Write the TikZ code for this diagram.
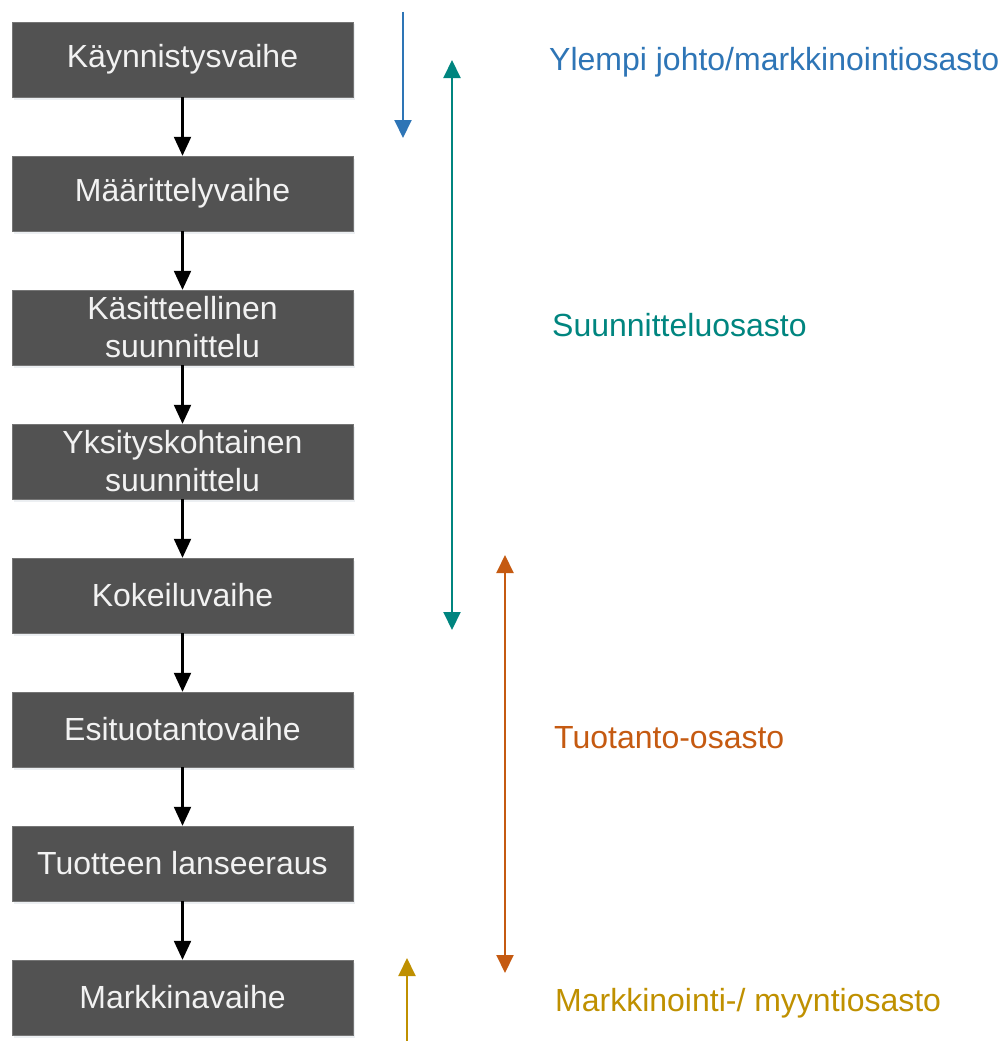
\documentclass[tikz,border=0pt]{standalone}
\usepackage{fontspec}
\setmainfont{Liberation Sans}
\usetikzlibrary{arrows.meta,shadows}
\definecolor{boxgray}{HTML}{525252}
\definecolor{cblue}{HTML}{2E75B6}
\definecolor{cteal}{HTML}{00857F}
\definecolor{corange}{HTML}{C55A11}
\definecolor{cgold}{HTML}{BF9000}
\tikzset{
  phase/.style={draw=boxgray!80!white, fill=boxgray, minimum width=341pt, minimum height=75pt,
    inner sep=0pt, text=white!95!black, align=center, font=\fontsize{32}{38}\selectfont,
    drop shadow={opacity=0.12, fill=cblue!40!gray, shadow xshift=1.5pt, shadow yshift=-2.5pt}},
  flow/.style={draw=black, line width=2.2pt, -{Triangle[width=17pt,length=19pt]}},
  dept/.style={line width=2pt, -{Triangle[width=17pt,length=18pt]}},
  ddept/.style={line width=2pt, {Triangle[width=17pt,length=18pt]}-{Triangle[width=17pt,length=18pt]}},
  lbl/.style={anchor=west, inner sep=0pt, font=\fontsize{32}{36}\selectfont}
}
\begin{document}
\begin{tikzpicture}[x=1pt,y=-1pt]
\path[use as bounding box] (0,0) rectangle (1006,1041);
\node[phase] (b1) at (182.5,59.5) {Käynnistysvaihe};
\node[phase] (b2) at (182.5,193.5) {Määrittelyvaihe};
\node[phase] (b3) at (182.5,327.5) {Käsitteellinen\\suunnittelu};
\node[phase] (b4) at (182.5,461.5) {Yksityskohtainen\\suunnittelu};
\node[phase] (b5) at (182.5,595.5) {Kokeiluvaihe};
\node[phase] (b6) at (182.5,729.5) {Esituotantovaihe};
\node[phase] (b7) at (182.5,863.5) {Tuotteen lanseeraus};
\node[phase] (b8) at (182.5,997.5) {Markkinavaihe};
\foreach \a/\b in {b1/b2,b2/b3,b3/b4,b4/b5,b5/b6,b6/b7,b7/b8}
  \draw[flow] (\a.south) -- (\b.north);
% department arrows
\coordinate (blA) at (403,12);
\coordinate (blB) at (403,138);
\draw[dept, draw=cblue, fill=cblue] (blA) -- (blB);
\coordinate (teA) at (452,60);
\coordinate (teB) at (452,630);
\draw[ddept, draw=cteal, fill=cteal] (teA) -- (teB);
\coordinate (orA) at (505,555);
\coordinate (orB) at (505,973);
\draw[ddept, draw=corange, fill=corange] (orA) -- (orB);
\coordinate (goA) at (407,1041);
\coordinate (goB) at (407,958);
\draw[dept, draw=cgold, fill=cgold] (goA) -- (goB);
% labels
\node[lbl, text=cblue] (l1) at (549,62) {Ylempi johto/markkinointiosasto};
\node[lbl, text=cteal] (l2) at (552,325) {Suunnitteluosasto};
\node[lbl, text=corange] (l3) at (554,738) {Tuotanto-osasto};
\node[lbl, text=cgold] (l4) at (555,1003) {Markkinointi-/ myyntiosasto};
\end{tikzpicture}
\end{document}
